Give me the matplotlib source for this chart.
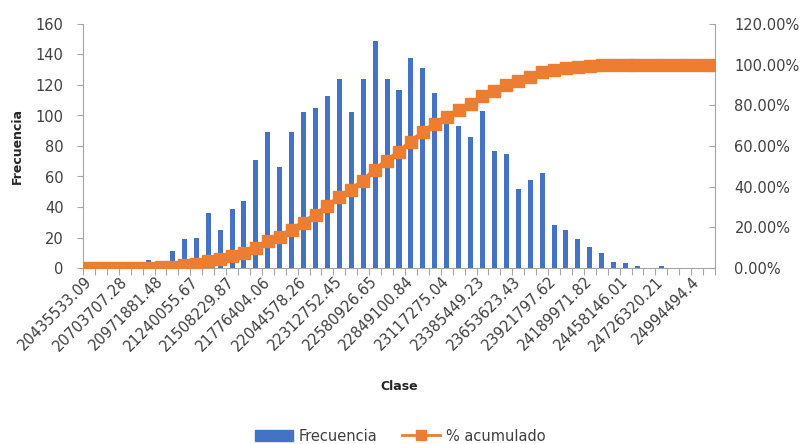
import numpy as np
import matplotlib
matplotlib.use("Agg")
import matplotlib.pyplot as plt
from matplotlib.patches import Patch
from matplotlib.lines import Line2D

# histogram counts per class (53 classes)
frecuencia = [0, 0, 0, 0, 0, 5, 3, 11, 19, 20, 36, 25, 39, 44, 71, 89, 66, 89,
              102, 105, 113, 124, 102, 124, 149, 124, 117, 138, 131, 115, 95,
              93, 86, 103, 77, 75, 52, 58, 62, 28, 25, 19, 14, 10, 4, 3, 1, 0,
              1, 0, 0, 0, 0]

# cumulative percentage per class
acumulado = [0.00, 0.00, 0.00, 0.00, 0.00, 0.18, 0.29, 0.69, 1.37, 2.10, 3.40,
             4.30, 5.71, 7.30, 9.87, 13.08, 15.47, 18.68, 22.37, 26.17, 30.25,
             34.73, 38.42, 42.90, 48.28, 52.77, 56.99, 61.98, 66.71, 70.87,
             74.30, 77.67, 80.78, 84.50, 87.28, 89.99, 91.87, 93.96, 96.21,
             97.22, 98.12, 98.81, 99.31, 99.67, 99.82, 99.93, 99.96, 99.96,
             100.00, 100.00, 100.00, 100.00, 100.00]

# class labels shown on the axis (every third class)
clase_labels = ["20435533.09", "20703707.28", "20971881.48", "21240055.67",
                "21508229.87", "21776404.06", "22044578.26", "22312752.45",
                "22580926.65", "22849100.84", "23117275.04", "23385449.23",
                "23653623.43", "23921797.62", "24189971.82", "24458146.01",
                "24726320.21", "24994494.4"]

blue = "#4472C4"
orange = "#ED7D31"
grey = "#A6A6A6"
text_grey = "#404040"

plt.rcParams["font.family"] = ["DejaVu Sans"]

fig = plt.figure(figsize=(8.02, 4.44), dpi=100)
ax = fig.add_axes([83 / 802, 1 - 268 / 444, 632 / 802, 244 / 444])

x = np.arange(len(frecuencia))
ax.bar(x, frecuencia, width=0.42, color=blue, zorder=2)
ax.set_xlim(-0.5, len(frecuencia) - 0.5)
ax.set_ylim(0, 160)
ax.set_yticks(np.arange(0, 161, 20))

# tick marks on class boundaries, labels on every third class centre
ax.set_xticks(np.arange(-0.5, len(frecuencia), 1))
ax.set_xticklabels([])
ax.tick_params(axis="x", which="major", length=5, color=grey, direction="out")
ax.set_xticks(x[::3], minor=True)
ax.set_xticklabels(clase_labels, minor=True, rotation=45, ha="right",
                   va="center", rotation_mode="anchor", fontsize=10.5,
                   color=text_grey)
ax.tick_params(axis="x", which="minor", length=0, pad=8)
ax.tick_params(axis="y", length=4, color=grey, labelsize=10.5,
               labelcolor=text_grey, pad=10)

for side in ["top", "right"]:
    ax.spines[side].set_visible(False)
for side in ["left", "bottom"]:
    ax.spines[side].set_color(grey)

ax2 = ax.twinx()
ax2.plot(x, acumulado, color=orange, lw=3.5, marker="s", ms=8.5, zorder=3)
ax2.set_ylim(0, 120)
ax2.set_yticks(np.arange(0, 121, 20))
ax2.set_yticklabels(["{:.2f}%".format(v) for v in np.arange(0, 121, 20)])
ax2.tick_params(axis="y", length=4, direction="in", color=grey,
                labelsize=10.5, labelcolor=text_grey, pad=14)
for side in ["top", "left", "bottom"]:
    ax2.spines[side].set_visible(False)
ax2.spines["right"].set_color(grey)

fig.text(17 / 802, 1 - 146 / 444, "Frecuencia", rotation=90, ha="center",
         va="center", fontsize=9, fontweight="bold", color="#262626")
fig.text(399 / 802, 1 - 386 / 444, "Clase", ha="center", va="center",
         fontsize=9, fontweight="bold", color="#262626")

handles = [Patch(color=blue),
           Line2D([], [], color=orange, lw=2, marker="s", ms=7)]
fig.legend(handles, ["Frecuencia", "% acumulado"], loc="center",
           bbox_to_anchor=(400 / 802, 1 - 436 / 444), ncol=2, frameon=False,
           fontsize=10.5, labelcolor=text_grey, handlelength=2.6,
           columnspacing=1.7, handletextpad=0.4)

fig.savefig("out.png", dpi=100)
